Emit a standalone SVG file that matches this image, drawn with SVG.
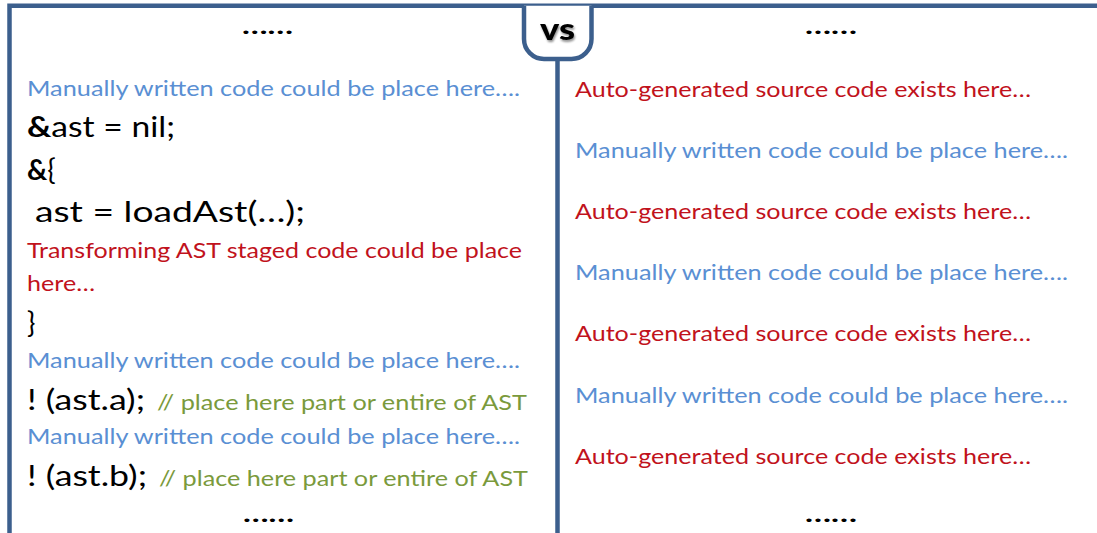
<svg xmlns="http://www.w3.org/2000/svg" width="1097" height="533" viewBox="0 0 1097 533">
  <defs>
    <filter id="softShadow" x="-30%" y="-30%" width="160%" height="160%">
      <feGaussianBlur in="SourceAlpha" stdDeviation="1.2"/>
      <feOffset dx="1" dy="1.5" result="b"/>
      <feComponentTransfer><feFuncA type="linear" slope="0.45"/></feComponentTransfer>
      <feMerge><feMergeNode/><feMergeNode in="SourceGraphic"/></feMerge>
    </filter>
  </defs>
  <style>
    text { font-family: Lato, "Open Sans", "Liberation Sans", sans-serif; }
    .frame { fill: none; stroke: #3c5f8d; stroke-width: 4.5; }
    .manual { fill: #5a8fd3; font-size: 22px; }
    .auto { fill: #c1121c; font-size: 22px; }
    .code { fill: #000; font-size: 28px; }
    .comment { fill: #7a9a3c; font-size: 22px; }
    .dots { fill: #000; font-size: 22px; font-weight: bold; }
    .vs { fill: #000; font-size: 31px; font-weight: 900; }
  </style>
  <rect width="1097" height="533" fill="#ffffff"/>

  <!-- outer frame, centre divider and the "vs" tab -->
  <g id="frame">
    <path class="frame" d="M9.5 533 V5.8 H1097"/>
    <line class="frame" x1="557.5" y1="59" x2="557.5" y2="533"/>
  </g>
  <g id="vs-tab">
    <path d="M524 5.8 V39 A20 20 0 0 0 544 59 H571.5 A20 20 0 0 0 591.5 39 V5.8" fill="#ffffff" stroke="#3c5f8d" stroke-width="4.5"/>
    <text class="vs" x="557.5" y="40" text-anchor="middle" textLength="35" lengthAdjust="spacingAndGlyphs" filter="url(#softShadow)">vs</text>
  </g>

  <!-- left column: staged code with inline manual code -->
  <g id="left-panel">
    <text class="dots" x="242" y="34" textLength="51" lengthAdjust="spacingAndGlyphs">……</text>
    <text class="manual" x="27" y="96" textLength="493" lengthAdjust="spacingAndGlyphs">Manually written code could be place here….</text>
    <text class="code" x="27" y="137" textLength="148" lengthAdjust="spacingAndGlyphs"><tspan font-weight="bold">&amp;</tspan>ast = nil;</text>
    <text class="code" x="27" y="180"><tspan font-weight="bold">&amp;</tspan>{</text>
    <text class="code" x="35" y="222" textLength="270" lengthAdjust="spacingAndGlyphs">ast = loadAst(…);</text>
    <text class="auto" x="27" y="258" textLength="495" lengthAdjust="spacingAndGlyphs">Transforming AST staged code could be place</text>
    <text class="auto" x="27" y="291" textLength="68" lengthAdjust="spacingAndGlyphs">here…</text>
    <text class="code" x="27" y="333">}</text>
    <text class="manual" x="27" y="368" textLength="493" lengthAdjust="spacingAndGlyphs">Manually written code could be place here….</text>
    <text class="code" x="27" y="410" textLength="118" lengthAdjust="spacingAndGlyphs">! (ast.a);</text>
    <text class="comment" x="157" y="410" textLength="370" lengthAdjust="spacingAndGlyphs">// place here part or entire of AST</text>
    <text class="manual" x="27" y="444" textLength="493" lengthAdjust="spacingAndGlyphs">Manually written code could be place here….</text>
    <text class="code" x="27" y="486" textLength="120" lengthAdjust="spacingAndGlyphs">! (ast.b);</text>
    <text class="comment" x="159" y="486" textLength="369" lengthAdjust="spacingAndGlyphs">// place here part or entire of AST</text>
    <text class="dots" x="243" y="522" textLength="51" lengthAdjust="spacingAndGlyphs">……</text>
  </g>

  <!-- right column: generated source interleaved with manual code -->
  <g id="right-panel">
    <text class="dots" x="805" y="34" textLength="52" lengthAdjust="spacingAndGlyphs">……</text>
    <text class="auto" x="575" y="97" textLength="456" lengthAdjust="spacingAndGlyphs">Auto-generated source code exists here…</text>
    <text class="manual" x="575" y="158" textLength="493" lengthAdjust="spacingAndGlyphs">Manually written code could be place here….</text>
    <text class="auto" x="575" y="219" textLength="456" lengthAdjust="spacingAndGlyphs">Auto-generated source code exists here…</text>
    <text class="manual" x="575" y="280" textLength="493" lengthAdjust="spacingAndGlyphs">Manually written code could be place here….</text>
    <text class="auto" x="575" y="341" textLength="456" lengthAdjust="spacingAndGlyphs">Auto-generated source code exists here…</text>
    <text class="manual" x="575" y="403" textLength="493" lengthAdjust="spacingAndGlyphs">Manually written code could be place here….</text>
    <text class="auto" x="575" y="464" textLength="456" lengthAdjust="spacingAndGlyphs">Auto-generated source code exists here…</text>
    <text class="dots" x="805" y="522" textLength="52" lengthAdjust="spacingAndGlyphs">……</text>
  </g>
</svg>
